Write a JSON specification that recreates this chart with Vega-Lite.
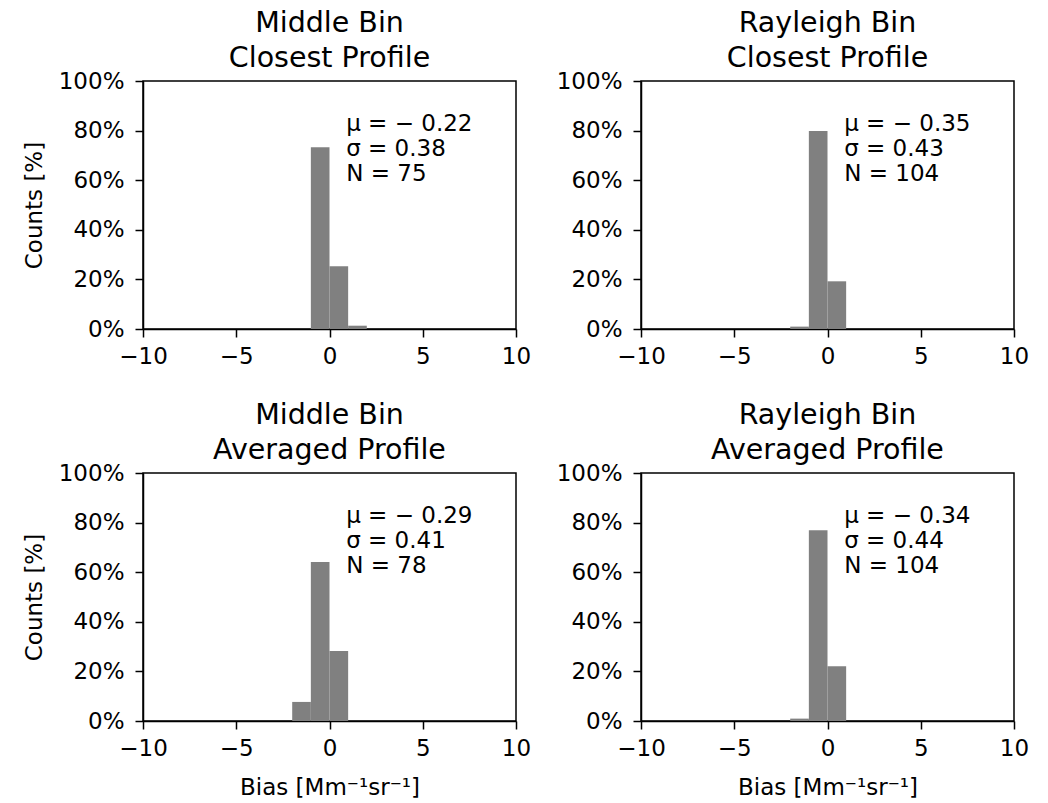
{
  "$schema": "https://vega.github.io/schema/vega-lite/v6.json",
  "background": "white",
  "padding": {"left": 22, "top": 7, "right": 0, "bottom": 0},
  "datasets": {
    "bins": [
      {"panel": "Middle Closest", "lo": -1, "hi": 0, "pct": 73.33},
      {"panel": "Middle Closest", "lo": 0, "hi": 1, "pct": 25.33},
      {"panel": "Middle Closest", "lo": 1, "hi": 2, "pct": 1.33},
      {"panel": "Rayleigh Closest", "lo": -2, "hi": -1, "pct": 0.96},
      {"panel": "Rayleigh Closest", "lo": -1, "hi": 0, "pct": 79.81},
      {"panel": "Rayleigh Closest", "lo": 0, "hi": 1, "pct": 19.23},
      {"panel": "Middle Averaged", "lo": -2, "hi": -1, "pct": 7.69},
      {"panel": "Middle Averaged", "lo": -1, "hi": 0, "pct": 64.10},
      {"panel": "Middle Averaged", "lo": 0, "hi": 1, "pct": 28.21},
      {"panel": "Rayleigh Averaged", "lo": -2, "hi": -1, "pct": 0.96},
      {"panel": "Rayleigh Averaged", "lo": -1, "hi": 0, "pct": 76.92},
      {"panel": "Rayleigh Averaged", "lo": 0, "hi": 1, "pct": 22.12}
    ],
    "one": [{}]
  },
  "spacing": 30,
  "vconcat": [
    {
      "bounds": "flush",
      "spacing": 125,
      "hconcat": [
        {
          "width": 373, "height": 248,
          "title": {"text": ["Middle Bin\u00a0", "\u00a0Closest Profile"]},
          "layer": [
            {
              "data": {"name": "bins"},
              "transform": [{"filter": "datum.panel === 'Middle Closest'"}],
              "mark": {"type": "bar", "color": "#808080"},
              "encoding": {
                "x": {"field": "lo", "type": "quantitative", "scale": {"domain": [-10, 10]}, "axis": {"values": [-10, -5, 0, 5, 10], "format": "d", "title": null}},
                "x2": {"field": "hi"},
                "y": {"field": "pct", "type": "quantitative", "scale": {"domain": [0, 100]}, "axis": {"values": [0, 20, 40, 60, 80, 100], "labelExpr": "datum.value + '%'", "title": "Counts [%]"}},
                "y2": {"datum": 0}
              }
            },
            {
              "data": {"name": "one"},
              "mark": {"type": "text", "align": "left", "baseline": "top", "dx": -2, "fontSize": 23, "lineHeight": 25, "color": "black", "text": ["μ = − 0.22", "σ = 0.38", "N = 75"]},
              "encoding": {"x": {"datum": 1}, "y": {"datum": 87}}
            }
          ]
        },
        {
          "width": 373, "height": 248,
          "title": {"text": ["Rayleigh Bin\u00a0", "\u00a0Closest Profile"]},
          "layer": [
            {
              "data": {"name": "bins"},
              "transform": [{"filter": "datum.panel === 'Rayleigh Closest'"}],
              "mark": {"type": "bar", "color": "#808080"},
              "encoding": {
                "x": {"field": "lo", "type": "quantitative", "scale": {"domain": [-10, 10]}, "axis": {"values": [-10, -5, 0, 5, 10], "format": "d", "title": null}},
                "x2": {"field": "hi"},
                "y": {"field": "pct", "type": "quantitative", "scale": {"domain": [0, 100]}, "axis": {"values": [0, 20, 40, 60, 80, 100], "labelExpr": "datum.value + '%'", "title": null}},
                "y2": {"datum": 0}
              }
            },
            {
              "data": {"name": "one"},
              "mark": {"type": "text", "align": "left", "baseline": "top", "dx": -2, "fontSize": 23, "lineHeight": 25, "color": "black", "text": ["μ = − 0.35", "σ = 0.43", "N = 104"]},
              "encoding": {"x": {"datum": 1}, "y": {"datum": 87}}
            }
          ]
        }
      ]
    },
    {
      "bounds": "flush",
      "spacing": 125,
      "hconcat": [
        {
          "width": 373, "height": 248,
          "title": {"text": ["Middle Bin\u00a0", "\u00a0Averaged Profile"]},
          "layer": [
            {
              "data": {"name": "bins"},
              "transform": [{"filter": "datum.panel === 'Middle Averaged'"}],
              "mark": {"type": "bar", "color": "#808080"},
              "encoding": {
                "x": {"field": "lo", "type": "quantitative", "scale": {"domain": [-10, 10]}, "axis": {"values": [-10, -5, 0, 5, 10], "format": "d", "title": "Bias [Mm⁻¹sr⁻¹]"}},
                "x2": {"field": "hi"},
                "y": {"field": "pct", "type": "quantitative", "scale": {"domain": [0, 100]}, "axis": {"values": [0, 20, 40, 60, 80, 100], "labelExpr": "datum.value + '%'", "title": "Counts [%]"}},
                "y2": {"datum": 0}
              }
            },
            {
              "data": {"name": "one"},
              "mark": {"type": "text", "align": "left", "baseline": "top", "dx": -2, "fontSize": 23, "lineHeight": 25, "color": "black", "text": ["μ = − 0.29", "σ = 0.41", "N = 78"]},
              "encoding": {"x": {"datum": 1}, "y": {"datum": 87}}
            }
          ]
        },
        {
          "width": 373, "height": 248,
          "title": {"text": ["Rayleigh Bin\u00a0", "\u00a0Averaged Profile"]},
          "layer": [
            {
              "data": {"name": "bins"},
              "transform": [{"filter": "datum.panel === 'Rayleigh Averaged'"}],
              "mark": {"type": "bar", "color": "#808080"},
              "encoding": {
                "x": {"field": "lo", "type": "quantitative", "scale": {"domain": [-10, 10]}, "axis": {"values": [-10, -5, 0, 5, 10], "format": "d", "title": "Bias [Mm⁻¹sr⁻¹]"}},
                "x2": {"field": "hi"},
                "y": {"field": "pct", "type": "quantitative", "scale": {"domain": [0, 100]}, "axis": {"values": [0, 20, 40, 60, 80, 100], "labelExpr": "datum.value + '%'", "title": null}},
                "y2": {"datum": 0}
              }
            },
            {
              "data": {"name": "one"},
              "mark": {"type": "text", "align": "left", "baseline": "top", "dx": -2, "fontSize": 23, "lineHeight": 25, "color": "black", "text": ["μ = − 0.34", "σ = 0.44", "N = 104"]},
              "encoding": {"x": {"datum": 1}, "y": {"datum": 87}}
            }
          ]
        }
      ]
    }
  ],
  "config": {
    "font": "DejaVu Sans",
    "view": {"stroke": "black", "strokeWidth": 1.5},
    "axis": {
      "grid": false,
      "domainColor": "black",
      "domainWidth": 1.5,
      "tickColor": "black",
      "tickWidth": 1.5,
      "tickSize": 8,
      "labelFont": "DejaVu Sans",
      "labelFontSize": 23,
      "labelColor": "black",
      "labelFlush": false,
      "labelOverlap": false,
      "titleFont": "DejaVu Sans",
      "titleFontSize": 23,
      "titleFontWeight": "normal",
      "titleColor": "black"
    },
    "axisX": {"labelPadding": 8, "titlePadding": 16},
    "axisY": {"labelPadding": 11, "titlePadding": 12},
    "title": {"font": "DejaVu Sans", "fontSize": 28.5, "fontWeight": "normal", "color": "black", "anchor": "middle", "lineHeight": 35, "offset": -2}
  }
}
